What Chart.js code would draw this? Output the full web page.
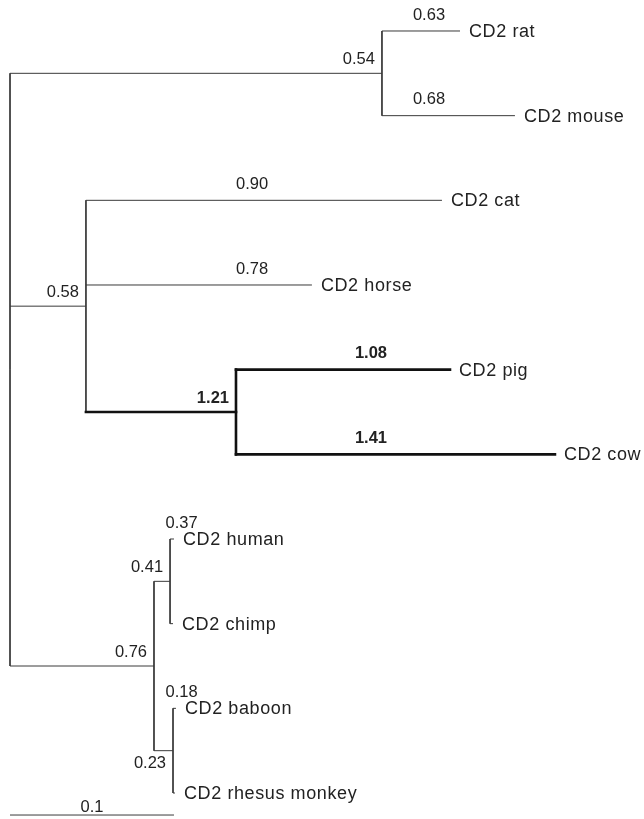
<!DOCTYPE html>
<html>
<head>
<meta charset="utf-8">
<script src="https://cdn.jsdelivr.net/npm/chart.js@4"></script>
<style>
  html, body { margin: 0; padding: 0; background: #fff; }
  canvas { display: block; }
</style>
</head>
<body>
<canvas id="tree" width="644" height="819"></canvas>
<script>
// Tips of the tree, top to bottom
const leafNames = ['CD2 rat', 'CD2 mouse', 'CD2 cat', 'CD2 horse', 'CD2 pig', 'CD2 cow',
  'CD2 human', 'CD2 chimp', 'CD2 baboon', 'CD2 rhesus monkey'];
const leafParent = ['rodents', 'rodents', 'laura', 'laura', 'pigcow', 'pigcow',
  'hominids', 'hominids', 'cercop', 'cercop'];
// distance from the root (substitutions per site)
const leafDepth = [0.2744, 0.3079, 0.2634, 0.1841, 0.2683, 0.3323, 0.1000, 0.0994, 0.1012, 0.1006];
const leafRatio = ['0.63', '0.68', '0.90', '0.78', '1.08', '1.41', '0.37', '', '0.18', ''];

// Internal nodes
const nodeNames = ['root', 'rodents', 'laura', 'pigcow', 'primates', 'hominids', 'cercop'];
const nodeParent = [null, 'root', 'root', 'laura', 'root', 'primates', 'primates'];
const nodeDepth = [0, 0.2268, 0.0463, 0.1378, 0.0878, 0.0976, 0.0994];
const nodeRatio = ['', '0.54', '0.58', '1.21', '0.76', '0.41', '0.23'];

// scale bar
const scaleBar = [0, 0.1];
const scaleBarLabel = '0.1';

// layout / style
const HIGHLIGHT = 'pigcow';
const LABEL_AT = { rodents: 0.2555, laura: 0.1476, pigcow: 0.2201, hominids: 0.1046, cercop: 0.1046 };
const LABEL_BELOW = ['cercop'];
const SCALE_ROW = 9.26;
const THIN = '#3a3a3a';
const BOLD = '#111';
const TEXT = '#222';

// --- build geometry from the topology ---
const depthOf = {};
const yOf = {};
leafNames.forEach((n, i) => { depthOf[n] = leafDepth[i]; yOf[n] = i; });
nodeNames.forEach((n, i) => { depthOf[n] = nodeDepth[i]; });

function childrenOf(name) {
  const kids = [];
  leafNames.forEach((n, i) => { if (leafParent[i] === name) kids.push(n); });
  nodeNames.forEach((n, i) => { if (nodeParent[i] === name) kids.push(n); });
  return kids;
}
const span = {};
function layout(name) {
  if (name in yOf) return yOf[name];
  const ys = childrenOf(name).map(layout);
  span[name] = [Math.min(...ys), Math.max(...ys)];
  yOf[name] = (span[name][0] + span[name][1]) / 2;
  return yOf[name];
}
layout('root');

const parentOf = {};
leafNames.forEach((n, i) => { parentOf[n] = leafParent[i]; });
nodeNames.forEach((n, i) => { parentOf[n] = nodeParent[i]; });
function inClade(name, clade) {
  while (name) { if (name === clade) return true; name = parentOf[name]; }
  return false;
}

const segments = [];
// horizontal branches
[...leafNames, ...nodeNames].forEach((n) => {
  const p = parentOf[n];
  if (!p) return;
  segments.push({
    pts: [{ x: depthOf[p], y: yOf[n] }, { x: depthOf[n], y: yOf[n] }],
    bold: inClade(n, HIGHLIGHT),
  });
});
// vertical connectors
nodeNames.forEach((n) => {
  segments.push({
    pts: [{ x: depthOf[n], y: span[n][0] }, { x: depthOf[n], y: span[n][1] }],
    bold: inClade(n, HIGHLIGHT),
  });
});

const datasets = segments.map((s) => ({
  data: s.pts,
  showLine: true,
  borderColor: s.bold ? BOLD : THIN,
  borderWidth: s.bold ? 2.6 : 1,
  borderCapStyle: s.bold ? 'square' : 'butt',
  pointRadius: 0,
  fill: false,
}));
datasets.push({
  data: [{ x: scaleBar[0], y: SCALE_ROW }, { x: scaleBar[1], y: SCALE_ROW }],
  showLine: true,
  borderColor: THIN,
  borderWidth: 1,
  pointRadius: 0,
});

// text labels
const treeLabels = {
  id: 'treeLabels',
  afterDatasetsDraw(chart) {
    const ctx = chart.ctx;
    const xs = chart.scales.x;
    const ys = chart.scales.y;
    ctx.save();
    ctx.fillStyle = TEXT;
    ctx.textBaseline = 'middle';

    // tip names
    ctx.font = '18px "Liberation Sans", Arial, sans-serif';
    ctx.letterSpacing = '0.6px';
    ctx.textAlign = 'left';
    leafNames.forEach((n, i) => {
      ctx.fillText(n, xs.getPixelForValue(leafDepth[i]) + 9, ys.getPixelForValue(i) + 1);
    });
    ctx.letterSpacing = '0px';

    // ratios on terminal branches
    ctx.textAlign = 'center';
    leafNames.forEach((n, i) => {
      if (!leafRatio[i]) return;
      const bold = inClade(n, HIGHLIGHT);
      ctx.font = (bold ? 'bold ' : '') + '16.5px "Liberation Sans", Arial, sans-serif';
      ctx.fillText(leafRatio[i], xs.getPixelForValue(LABEL_AT[leafParent[i]]),
        ys.getPixelForValue(i) - 16);
    });

    // ratios on internal branches
    ctx.textAlign = 'right';
    nodeNames.forEach((n, i) => {
      if (!nodeRatio[i]) return;
      const bold = inClade(n, HIGHLIGHT);
      ctx.font = (bold ? 'bold ' : '') + '16.5px "Liberation Sans", Arial, sans-serif';
      const dy = LABEL_BELOW.includes(n) ? 13 : -14;
      ctx.fillText(nodeRatio[i], xs.getPixelForValue(nodeDepth[i]) - 7,
        ys.getPixelForValue(yOf[n]) + dy);
    });

    // scale bar label
    ctx.textAlign = 'center';
    ctx.font = '16.5px "Liberation Sans", Arial, sans-serif';
    ctx.fillText(scaleBarLabel, xs.getPixelForValue((scaleBar[0] + scaleBar[1]) / 2),
      ys.getPixelForValue(SCALE_ROW) - 8);
    ctx.restore();
  },
};

new Chart(document.getElementById('tree').getContext('2d'), {
  type: 'scatter',
  data: { datasets },
  options: {
    responsive: false,
    animation: false,
    events: [],
    layout: { padding: 0 },
    plugins: { legend: { display: false }, tooltip: { enabled: false } },
    scales: {
      x: { type: 'linear', display: false, min: -0.0061, max: 0.3866 },
      y: { type: 'linear', display: false, reverse: true, min: -0.366, max: 9.307 },
    },
  },
  plugins: [treeLabels],
});
</script>
</body>
</html>
